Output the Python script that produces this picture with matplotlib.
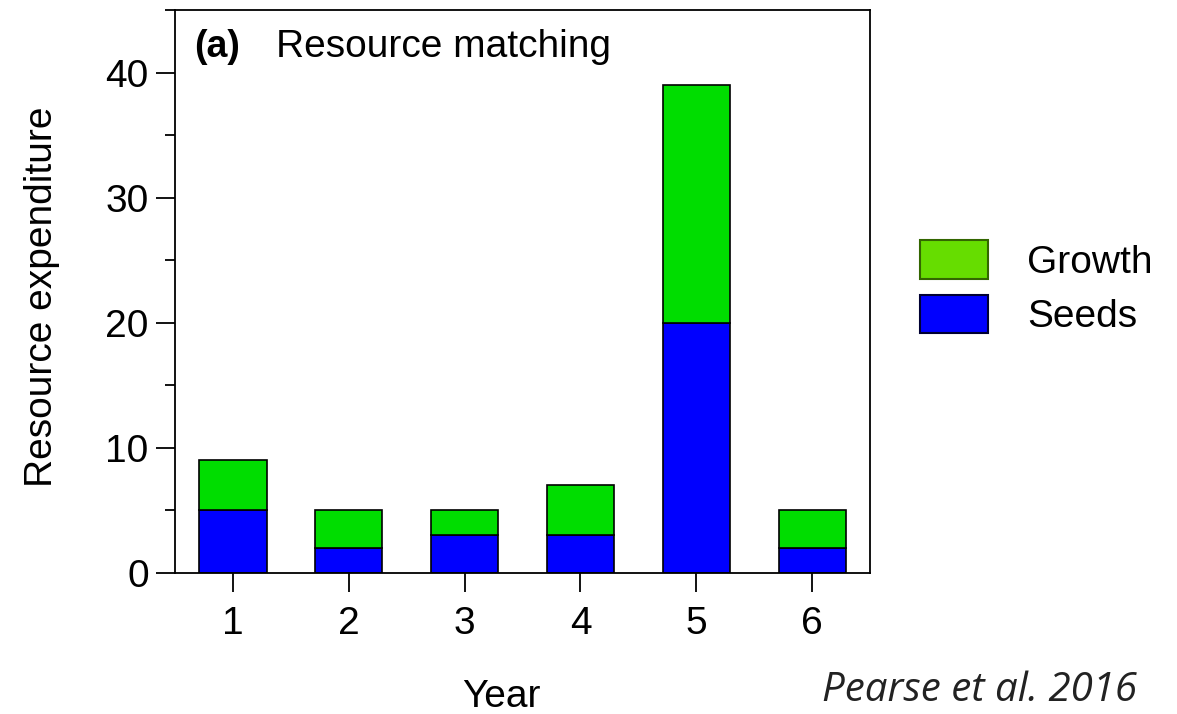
import matplotlib.pyplot as plt
from matplotlib.ticker import MultipleLocator
from matplotlib.patches import Patch

plt.rcParams['font.family'] = ['Liberation Sans', 'DejaVu Sans']

# data
years = [1, 2, 3, 4, 5, 6]
seeds = [5, 2, 3, 3, 20, 2]
growth = [4, 3, 2, 4, 19, 3]

fs = 28

fig = plt.figure(figsize=(11.77, 7.14), dpi=100)
ax = fig.add_axes([0.1487, 0.1975, 0.5905, 0.7885])

bar_w = 0.58
ax.bar(years, seeds, width=bar_w, color='#0000ff', edgecolor='black', linewidth=1.2)
ax.bar(years, growth, bottom=seeds, width=bar_w, color='#00dd00', edgecolor='black', linewidth=1.2)

ax.set_xlim(0.5, 6.5)
ax.set_ylim(0, 45)
ax.set_xticks(years)
ax.yaxis.set_major_locator(MultipleLocator(10))
ax.yaxis.set_minor_locator(MultipleLocator(5))
ax.tick_params(axis='both', which='major', labelsize=fs, length=14, width=1.3)
ax.tick_params(axis='y', which='minor', length=7, width=1.3)
ax.tick_params(axis='x', pad=10)
ax.tick_params(axis='y', pad=5)
for s in ax.spines.values():
    s.set_linewidth(1.3)

ax.set_ylabel('Resource expenditure', fontsize=fs)
ax.yaxis.set_label_coords(-0.191, 0.49)
ax.yaxis.label.set_va('center')
ax.set_xlabel('Year', fontsize=fs)
ax.xaxis.set_label_coords(0.47, -0.22)
ax.xaxis.label.set_va('center')

ax.text(0.027, 0.935, '(a)', transform=ax.transAxes, fontsize=fs - 1, fontweight='bold', va='center')
ax.text(0.145, 0.935, 'Resource matching', transform=ax.transAxes, fontsize=fs, va='center')

# legend
handles = [Patch(facecolor='#66dd00', edgecolor='#336600', linewidth=1.5, label='Growth'),
           Patch(facecolor='#0000ff', edgecolor='#000033', linewidth=1.5, label='Seeds')]
fig.legend(handles=handles, loc='center left', bbox_to_anchor=(0.752, 0.597),
           frameon=False, fontsize=fs, handlelength=1.75, handleheight=1.15,
           labelspacing=0.35, handletextpad=1.0)

fig.text(0.698, 0.004, 'Pearse et al. 2016', fontsize=29, style='italic',
         family=['Open Sans', 'DejaVu Sans'], color='#222222', va='bottom')

fig.savefig('out.png', dpi=100)
